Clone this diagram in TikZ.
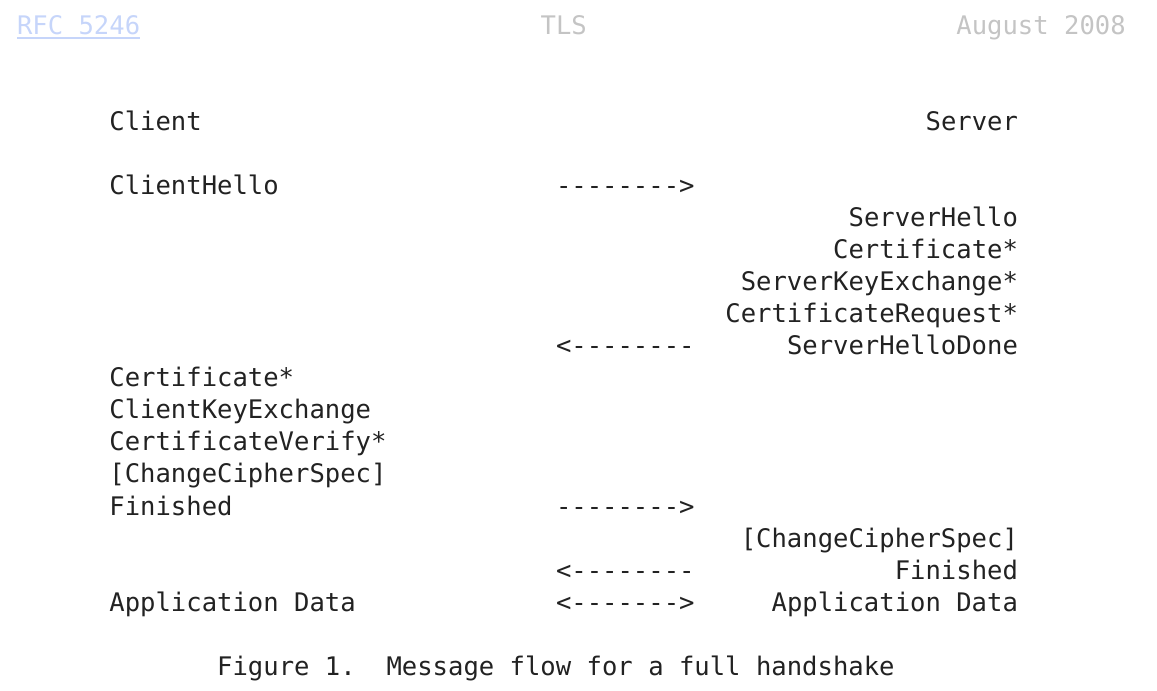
\documentclass[tikz,border=0pt]{standalone}
\usepackage{fontspec}
\setmonofont{DejaVu Sans Mono}
\definecolor{ink}{HTML}{222222}
\definecolor{hdrgray}{HTML}{C4C4C4}
\definecolor{linkblue}{HTML}{C6D5FA}
\begin{document}
\begin{tikzpicture}[x=0.75pt,y=-0.75pt,
  mono/.style={inner sep=0pt,outer sep=0pt,anchor=base west,
    font=\fontsize{19.18}{23}\selectfont\ttfamily},
  txt/.style={mono,text=ink},
  hdr/.style={mono,text=hdrgray},
  lnk/.style={mono,text=linkblue}]
\useasboundingbox (0,0) rectangle (1157,691);
% header (line 0)
\node[lnk] (rfc) at (17+15.4*0, 35+32*0) {RFC 5246};
\draw[linkblue,line width=1.1pt] ([yshift=-2.1pt]rfc.base west) -- ([yshift=-2.1pt]rfc.base east);
\node[hdr] (tls) at (17+15.4*34, 35+32*0) {TLS};
\node[hdr] (date) at (17+15.4*61, 35+32*0) {August 2008};
% column heads (line 3)
\node[txt] (client) at (17+15.4*6, 35+32*3) {Client};
\node[txt] (server) at (17+15.4*59, 35+32*3) {Server};
% line 5
\node[txt] (chello) at (17+15.4*6, 35+32*5) {ClientHello};
\node[txt] (a1) at (17+15.4*35, 35+32*5) {-------->};
% lines 6-10
\node[txt] (shello) at (17+15.4*54, 35+32*6) {ServerHello};
\node[txt] (scert) at (17+15.4*53, 35+32*7) {Certificate*};
\node[txt] (ske) at (17+15.4*47, 35+32*8) {ServerKeyExchange*};
\node[txt] (creq) at (17+15.4*46, 35+32*9) {CertificateRequest*};
\node[txt] (a2) at (17+15.4*35, 35+32*10) {<--------};
\node[txt] (shd) at (17+15.4*50, 35+32*10) {ServerHelloDone};
% lines 11-15
\node[txt] (ccert) at (17+15.4*6, 35+32*11) {Certificate*};
\node[txt] (cke) at (17+15.4*6, 35+32*12) {ClientKeyExchange};
\node[txt] (cv) at (17+15.4*6, 35+32*13) {CertificateVerify*};
\node[txt] (cccs) at (17+15.4*6, 35+32*14) {[ChangeCipherSpec]};
\node[txt] (cfin) at (17+15.4*6, 35+32*15) {Finished};
\node[txt] (a3) at (17+15.4*35, 35+32*15) {-------->};
% lines 16-18
\node[txt] (sccs) at (17+15.4*47, 35+32*16) {[ChangeCipherSpec]};
\node[txt] (a4) at (17+15.4*35, 35+32*17) {<--------};
\node[txt] (sfin) at (17+15.4*57, 35+32*17) {Finished};
\node[txt] (capp) at (17+15.4*6, 35+32*18) {Application Data};
\node[txt] (a5) at (17+15.4*35, 35+32*18) {<------->};
\node[txt] (sapp) at (17+15.4*49, 35+32*18) {Application Data};
% caption (line 20)
\node[txt] (cap) at (17+15.4*13, 35+32*20) {Figure 1.\ \ Message flow for a full handshake};
\end{tikzpicture}
\end{document}
